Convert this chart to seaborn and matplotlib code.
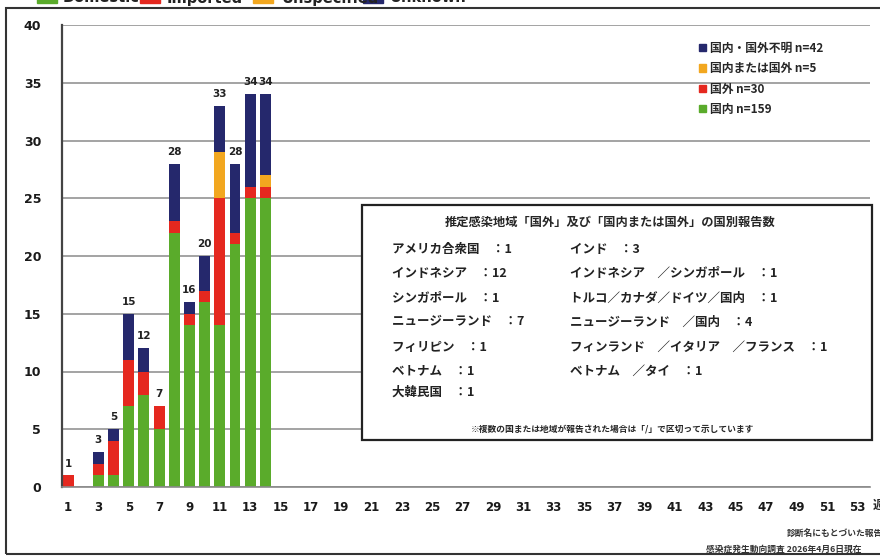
import matplotlib
matplotlib.use('Agg')
import matplotlib.pyplot as plt
from matplotlib.patches import Patch, Rectangle
import seaborn as sns
import pandas as pd

# weekly report counts by estimated place of infection
weeks = list(range(1, 15))
domestic = [0, 0, 1, 1, 7, 8, 5, 22, 14, 16, 14, 21, 25, 25]
imported = [1, 0, 1, 3, 4, 2, 2, 1, 1, 1, 11, 1, 1, 1]
unspecified = [0, 0, 0, 0, 0, 0, 0, 0, 0, 0, 4, 0, 0, 1]
unknown = [0, 0, 1, 1, 4, 2, 0, 5, 1, 3, 4, 6, 8, 7]

categories = ['国内・国外不明', '国内または国外', '国外', '国内']
legend_labels = ['国内・国外不明 n=42', '国内または国外 n=5', '国外 n=30', '国内 n=159']
top_labels = ['Domestic', 'Imported', 'Unspecified', 'Unknown']
colors = {'国内': '#5aab2b', '国外': '#e5281f', '国内または国外': '#f2a71f', '国内・国外不明': '#25286c'}

box_title = '推定感染地域「国外」及び「国内または国外」の国別報告数'
box_left = ['アメリカ合衆国　：1', 'インドネシア　：12', 'シンガポール　：1', 'ニュージーランド　：7',
            'フィリピン　：1', 'ベトナム　：1', '大韓民国　：1']
box_right = ['インド　：3', 'インドネシア　／シンガポール　：1', 'トルコ／カナダ／ドイツ／国内　：1',
             'ニュージーランド　／国内　：4', 'フィンランド　／イタリア　／フランス　：1', 'ベトナム　／タイ　：1']
box_note = '※複数の国または地域が報告された場合は「/」で区切って示しています'

rows = []
for i, w in enumerate(weeks):
    rows.append((w, '国内', domestic[i]))
    rows.append((w, '国外', imported[i]))
    rows.append((w, '国内または国外', unspecified[i]))
    rows.append((w, '国内・国外不明', unknown[i]))
df = pd.DataFrame(rows, columns=['week', 'place', 'count'])

sns.set_style('white')
plt.rcParams['font.family'] = ['Noto Sans CJK JP', 'DejaVu Sans']

W, H = 880, 557
fig = plt.figure(figsize=(8.8, 5.57), dpi=100)
ax = fig.add_axes([62 / W, 1 - 487 / H, (870 - 62) / W, (487 - 25) / H])

#stacked bars, last hue level ends up at the bottom
sns.histplot(data=df, x='week', weights='count', hue='place', hue_order=categories,
             multiple='stack', discrete=True, shrink=0.72, palette=colors,
             alpha=1, linewidth=0, legend=False, ax=ax)

totals = [a + b + c + d for a, b, c, d in zip(domestic, imported, unspecified, unknown)]
for w, t in zip(weeks, totals):
    if t > 0:
        ax.annotate(str(t), (w, t), xytext=(0, 5), textcoords='offset points',
                    ha='center', va='bottom', fontsize=7.5, fontweight='bold',
                    family='DejaVu Sans', color='#222222')

ax.set_xlim(0.6, 53.85)
ax.set_ylim(0, 40)
ax.set_yticks(range(0, 41, 5))
ax.set_xticks(range(1, 54))
ax.set_xticklabels([str(w) if w % 2 == 1 else '' for w in range(1, 54)])
ax.set_xlabel('')
ax.set_ylabel('')
ax.yaxis.grid(True, color='#9c9c9c', linewidth=1.3)
ax.set_axisbelow(True)
for s in ['top', 'right']:
    ax.spines[s].set_visible(False)
ax.spines['left'].set_color('#444444')
ax.spines['left'].set_linewidth(1.6)
ax.spines['bottom'].set_color('#8a8a8a')
ax.spines['bottom'].set_linewidth(1.2)
ax.tick_params(axis='y', length=7, color='#9c9c9c', pad=8, labelsize=9)
ax.tick_params(axis='x', length=3, color='#8a8a8a', pad=7, labelsize=8.5)
for lab in ax.get_xticklabels() + ax.get_yticklabels():
    lab.set_fontweight('bold')
    lab.set_family('DejaVu Sans')
    lab.set_color('#1a1a1a')
fig.text(873 / W, 1 - 505 / H, '週', fontsize=9, fontweight='bold', va='center', ha='left')

# legend in upper right
handles = [Patch(color=colors[c]) for c in categories]
ax.legend(handles, legend_labels, loc='upper left', bbox_to_anchor=(693 / W, 1 - 36 / H),
          bbox_transform=fig.transFigure, frameon=False, handlelength=0.6, handleheight=0.6,
          handletextpad=0.3, labelspacing=0.62, borderpad=0,
          prop={'size': 8.5, 'weight': 'bold'})

# text box
fig.patches.append(Rectangle((362 / W, 1 - 440 / H), (872 - 362) / W, (440 - 205) / H,
                             transform=fig.transFigure, facecolor='white', edgecolor='#222222',
                             linewidth=1.6, zorder=3))
fig.text(610 / W, 1 - 222 / H, box_title, ha='center', va='center', fontsize=8.8,
         fontweight='bold', zorder=4)
row_y = [249, 273, 298, 322, 347, 371, 392]
for i, t in enumerate(box_left):
    fig.text(392 / W, 1 - row_y[i] / H, t, ha='left', va='center', fontsize=9,
             fontweight='bold', color='#222222', zorder=4)
for i, t in enumerate(box_right):
    fig.text(570 / W, 1 - row_y[i] / H, t, ha='left', va='center', fontsize=9,
             fontweight='bold', color='#222222', zorder=4)
fig.text(612 / W, 1 - 430 / H, box_note, ha='center', va='center', fontsize=6.3,
         fontweight='bold', zorder=4)

# outer frame and clipped top legend
fig.patches.append(Rectangle((6 / W, 1 - 554 / H), (W + 20) / W, (554 - 8) / H,
                             transform=fig.transFigure, fill=False, edgecolor='#333333', linewidth=1.5))
swatch_x = [37, 140, 253, 363]
text_x = [63, 167, 282, 390]
for i, lab in enumerate(top_labels):
    c = colors[categories[::-1][i]]
    fig.patches.append(Rectangle((swatch_x[i] / W, 1 - 3 / H), 20 / W, 12 / H,
                                 transform=fig.transFigure, color=c))
    fig.text(text_x[i] / W, 1 - 2.5 / H, lab, ha='left', va='baseline', fontsize=10.5,
             fontweight='bold', family='DejaVu Sans', color='#222222')

# source notes, bottom right
fig.text(787 / W, 1 - 533 / H, '診断名にもとづいた報告', ha='left', va='center', fontsize=6.3,
         fontweight='bold', color='#333333')
fig.text(706 / W, 1 - 549 / H, '感染症発生動向調査 2026年4月6日現在', ha='left', va='center',
         fontsize=6.3, fontweight='bold', color='#333333')

fig.savefig('out.png', dpi=100)
